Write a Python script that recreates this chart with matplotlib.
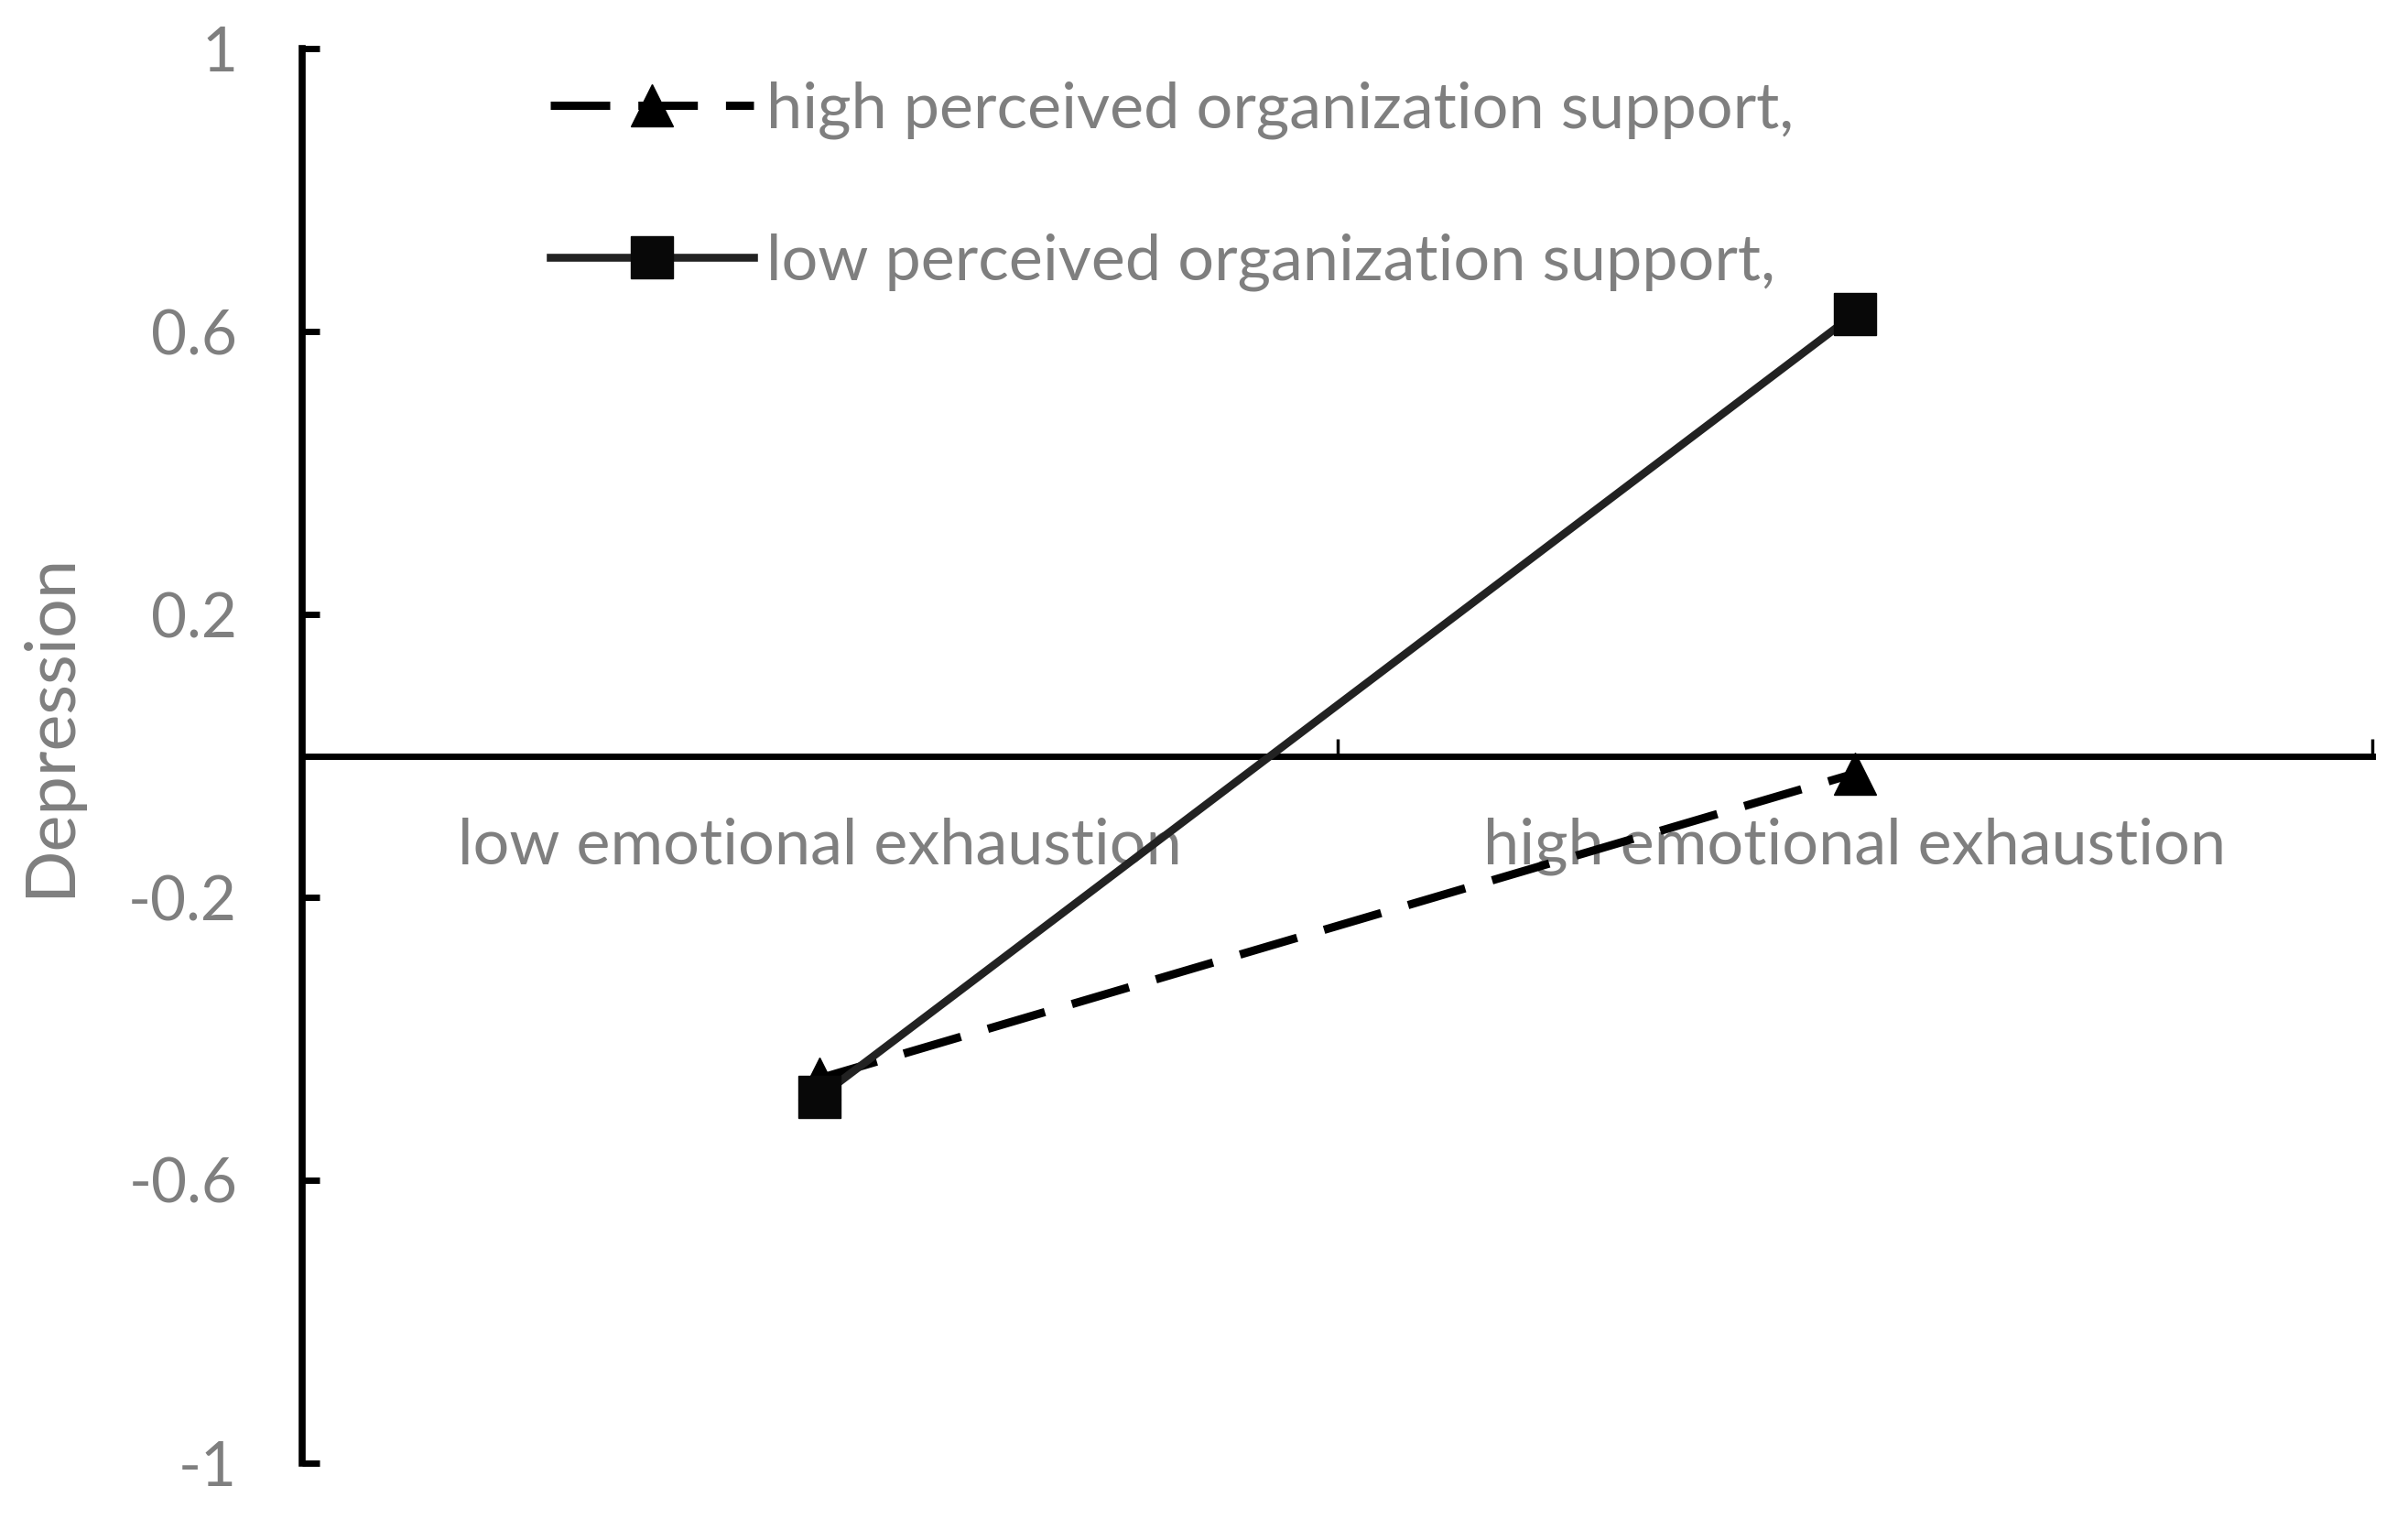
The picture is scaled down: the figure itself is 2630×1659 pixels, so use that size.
import matplotlib.pyplot as plt

# categories on the x axis
categories = ['low emotional exhaustion', 'high emotional exhaustion']

# simple slopes
high_pos = [-0.456, -0.025]
low_pos = [-0.482, 0.625]

series_labels = ['high perceived organization support,', 'low perceived organization support,']

yticks = [-1, -0.6, -0.2, 0.2, 0.6, 1]
ytick_labels = ['-1', '-0.6', '-0.2', '0.2', '0.6', '1']

grey = '#7f7f7f'
plt.rcParams['font.family'] = ['Lato', 'DejaVu Sans']

fig = plt.figure(figsize=(26.3, 16.59), dpi=100)
ax = fig.add_axes([0.1255, 0.0368, 0.9852 - 0.1255, 0.968 - 0.0368])

x = [1, 2]
ax.plot(x, high_pos, color='black', lw=6.5, dashes=(7.2, 3.4),
        marker='^', markersize=33, markerfacecolor='black',
        markeredgecolor='black', label=series_labels[0], zorder=3)
ax.plot(x, low_pos, color='#222222', lw=6.2,
        marker='s', markersize=33, markerfacecolor='#080808',
        markeredgecolor='#080808', label=series_labels[1], zorder=4)

ax.set_xlim(0.5, 2.5)
ax.set_ylim(-1, 1)

# axis styling, Excel-like
for s in ['top', 'right']:
    ax.spines[s].set_visible(False)
ax.spines['left'].set_linewidth(5.5)
ax.spines['bottom'].set_linewidth(5)
ax.spines['bottom'].set_position(('data', 0))

ax.set_yticks(yticks)
ax.set_yticklabels(ytick_labels)
ax.tick_params(axis='y', direction='in', length=14, width=5, pad=51,
               labelsize=48.5, labelcolor=grey)

# category boundaries as major ticks, labels on minor ticks
ax.set_xticks([1.5, 2.5])
ax.set_xticklabels(['', ''])
ax.set_xticks(x, minor=True)
ax.set_xticklabels(categories, minor=True)
ax.tick_params(axis='x', which='major', direction='in', length=14, width=2.5)
ax.tick_params(axis='x', which='minor', length=0, pad=48,
               labelsize=50.5, labelcolor=grey)

fig.text(55 / 2630, 1 - 792 / 1659, 'Depression', rotation=90,
         ha='center', va='center', fontsize=54.5, color=grey)

leg = ax.legend(loc='upper left', bbox_to_anchor=(601 / 2630, 1 - 89 / 1659),
                bbox_transform=fig.transFigure, frameon=False, fontsize=50.5,
                handlelength=3.16, handletextpad=0.2, labelspacing=1.46,
                borderpad=0, borderaxespad=0)
for t in leg.get_texts():
    t.set_color(grey)

fig.savefig('out.png', dpi=100)
